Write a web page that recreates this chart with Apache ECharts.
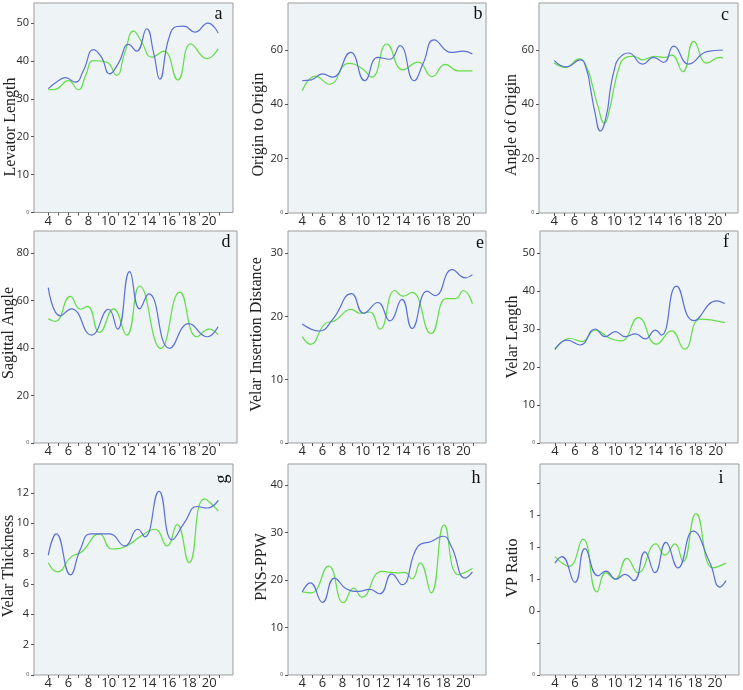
<!DOCTYPE html>
<html><head><meta charset="utf-8">
<script src="https://cdn.jsdelivr.net/npm/echarts@6/dist/echarts.min.js"></script>
<style>html,body{margin:0;padding:0;background:#fff}#c{width:743px;height:690px}</style>
</head><body><div id="c"></div>
<script>
// ---- data (x = age, y = value) ----
const levatorBlue = [[4,32.7],[5,34.8],[5.7,35.6],[6.7,34.4],[7.5,37.5],[8.5,43],[9.3,41],[10.1,36.6],[11,39.5],[12,44.4],[12.8,42.6],[13.8,48.5],[14.5,42],[15.1,35.2],[16,46],[16.8,49.1],[17.5,49.2],[18.6,47.6],[19.9,50],[20.9,47.4]];
const levatorGreen = [[4,32.4],[4.7,32.5],[6,34.8],[7,32.4],[7.7,36],[8.5,40.1],[9.8,39.7],[10.8,36.2],[11.6,42],[12.5,47.9],[13.3,45],[14.3,41],[15.5,42.6],[16.9,35],[18.2,44.5],[19.8,40.6],[20.9,43.2]];

const originBlue = [[4,48.7],[4.9,49],[6,51.2],[7,50],[8.8,59.1],[10.2,48.7],[11.5,57.3],[12.7,56.6],[13.7,61.6],[15.1,48.7],[16,55],[17.1,63.7],[18.8,59.1],[20,59.6],[20.9,58.5]];
const originGreen = [[4,45],[5.3,50.4],[6.7,47.4],[8.6,55.1],[9.9,53.3],[10.9,50],[12.4,62.2],[14,52.7],[15.5,55.5],[16.9,50.2],[18.2,54.7],[19.5,52.3],[20.9,52.3]];

const angleBlue = [[4,56.1],[5.2,53.8],[6.6,56.4],[7.2,53],[7.6,46],[8,38],[8.6,30.2],[9.2,36],[9.6,46],[10,53],[10.4,56.7],[11.4,58.9],[12.8,54.8],[13.9,57.3],[14.9,55.4],[15.9,61.4],[17.4,54.8],[19.2,59.4],[20.8,60]];
const angleGreen = [[4,55.2],[5.1,53.6],[6.5,56.7],[7.3,53],[7.8,47],[8.3,40],[9,33],[9.5,38],[10,47],[10.5,54],[10.9,56.7],[11.9,57.7],[12.8,56.4],[14,57.7],[15,57.3],[15.7,58.1],[16.8,52],[17.9,63.2],[19.2,55.2],[20.5,57.3],[20.8,57]];

const sagittalBlue = [[4,65.5],[5.2,53.6],[6.3,56.6],[8.3,45.5],[10,56.4],[10.9,48],[12.1,72.3],[13.1,56.6],[14,62.9],[16.1,39.9],[18,50.3],[19.8,44.8],[20.9,49]];
const sagittalGreen = [[4,52.4],[4.7,51.3],[6.2,61.8],[7.2,56.4],[7.9,57.6],[9.1,46.6],[10.5,56.6],[11.8,45.5],[13.1,66.2],[15.2,39.9],[17.1,63.6],[18.8,44.8],[20,48],[20.9,45.7]];

const insertionBlue = [[4,18.8],[5.7,17.7],[7,19.5],[8.9,23.6],[10.1,20.5],[11.5,22.2],[12.7,19.3],[13.9,22.7],[14.9,18.1],[16.4,24],[17.2,23.3],[18.9,27.4],[20.2,26.1],[20.9,26.6]];
const insertionGreen = [[4,16.8],[4.8,15.6],[6.3,18.9],[7.2,19.3],[8.9,21.1],[9.7,20.5],[10.7,20.7],[11.7,18],[13.2,24.1],[14,23.2],[14.9,23.8],[16.8,17.3],[18.3,22.8],[19.2,22.8],[20,24.1],[20.9,22]];

const velarLengthBlue = [[4,24.7],[5.2,27.1],[6.5,25.8],[8,30],[9,28],[10,29.3],[11,28],[12,28.7],[13,27.4],[14,29.7],[14.6,28.4],[16.1,41.3],[17.8,32.2],[20.1,37.4],[20.9,36.7]];
const velarLengthGreen = [[4,24.5],[5.5,27.5],[6.7,26.7],[8,29.7],[9.5,27.5],[10.6,26.9],[12.3,33],[14.1,26],[15.6,29.5],[16.9,24.7],[18.5,32.6],[20.9,31.7]];

const thicknessBlue = [[4,7.9],[4.8,9.3],[6.2,6.6],[7.2,8.3],[8.2,9.3],[10.1,9.3],[11.6,8.5],[12.9,9.6],[13.6,9.1],[15,12.1],[16.3,8.9],[17.5,10],[18.8,11.1],[19.8,11],[20.9,11.5]];
const thicknessGreen = [[4,7.4],[4.9,6.8],[6.3,7.8],[7.3,8.1],[9.1,9.3],[10.3,8.3],[11.8,8.5],[13.1,9.1],[14.6,9.6],[15.8,8.5],[16.8,9.9],[18,7.4],[19.5,11.6],[20.9,10.8]];

const pnsBlue = [[4,17.5],[4.8,19.4],[6,15.3],[7.2,20.4],[8.4,18.1],[9.6,17.6],[10.7,18],[11.7,17.1],[12.9,21.3],[13.9,19],[15.5,27.1],[16.8,28.1],[18,29.2],[18.8,27.1],[20.2,20.4],[20.9,21.7]];
const pnsGreen = [[4,17.5],[4.9,17.3],[6.6,22.9],[8.1,15.2],[9.1,18.3],[9.9,16.4],[11.9,21.8],[13.5,21.5],[14.2,21.6],[14.9,20.2],[15.7,23.6],[16.8,17.3],[18.1,31.6],[19.5,21.1],[20.9,22.4]];

const vpBlue = [[4,1.10],[4.7,1.14],[6,0.98],[7,1.19],[8.3,1.02],[9.1,1.05],[10.1,1.00],[11,1.03],[11.9,0.99],[13,1.17],[14,1.04],[15.1,1.23],[16.3,1.07],[17.8,1.30],[19.5,1.10],[20.5,0.95],[21.1,0.99]];
const vpGreen = [[4,1.14],[5.4,1.08],[6.8,1.25],[8.2,0.92],[9.1,1.04],[10,1.00],[11.2,1.13],[12.3,1.04],[14.1,1.22],[15,1.15],[16,1.22],[16.8,1.11],[18.1,1.41],[19.8,1.07],[21.1,1.10]];

const titles = ['Levator Length','Origin to Origin','Angle of Origin','Sagittal Angle','Velar Insertion Distance','Velar Length','Velar Thickness','PNS-PPW','VP Ratio'];
const letters = ['a','b','c','d','e','f','g','h','i'];
const blues = [levatorBlue, originBlue, angleBlue, sagittalBlue, insertionBlue, velarLengthBlue, thicknessBlue, pnsBlue, vpBlue];
const greens = [levatorGreen, originGreen, angleGreen, sagittalGreen, insertionGreen, velarLengthGreen, thicknessGreen, pnsGreen, vpGreen];

const xTickValues = [4,5,6,7,8,9,10,11,12,13,14,15,16,17,18,19,20,21];
const xLabelValues = [4,6,8,10,12,14,16,18,20];

const yTicks = [
  [0,10,20,30,40,50],
  [0,20,40,60],
  [0,20,40,60],
  [0,20,40,60,80],
  [0,10,20,30],
  [0,10,20,30,40,50],
  [0,2,4,6,8,10,12],
  [0,10,20,30,40],
  [0.4,0.6,0.8,1.0,1.2,1.4,1.6]
];
const yLabels = [
  ['0','10','20','30','40','50'],
  ['0','20','40','60'],
  ['0','20','40','60'],
  ['0','20','40','60','80'],
  ['0','10','20','30'],
  ['0','10','20','30','40','50'],
  ['0','2','4','6','8','10','12'],
  ['0','10','20','30','40'],
  ['0','','0','1','1','1','']
];

// ---- layout ----
const gridBoxes = [
  [34,3,199,209.5],[288,3,198,210],[539,3,199,210],
  [34,231,203,212],[288,231,198,212],[540,231,198,212],
  [34,464,199,212],[288,464,198,212],[540,464,199,212]
];
const xRanges = [[2.58,22.39],[2.58,22.25],[2.48,22.3],[2.58,22.79],[2.58,22.25],[2.51,22.22],[2.58,22.36],[2.58,22.25],[2.51,22.4]];
const yRanges = [[0,55.3],[0,77.3],[0,77.3],[0,89.4],[0,33.5],[0,55.8],[0,13.9],[0,44.4],[0.4,1.72]];
const titlePos = [[10.5,127],[259,124.5],[512,125],[8.5,333],[256.5,334.5],[513,337],[9,566],[262,567],[513,568]];
const letterPos = [[218.5,14],[478,14],[725,15],[226,242],[480,243],[726,242],[222,479],[476,478],[721,478]];

const grid = [], xAxis = [], yAxis = [], series = [], graphic = [];
for (let i = 0; i < 9; i++) {
  const g = gridBoxes[i];
  grid.push({left:g[0], top:g[1], width:g[2], height:g[3], show:true,
    backgroundColor:'#eef3f5', borderColor:'#9c9c9c', borderWidth:1, containLabel:false});
  xAxis.push({type:'value', gridIndex:i, min:xRanges[i][0], max:xRanges[i][1],
    axisLine:{show:false}, splitLine:{show:false},
    axisTick:{show:true, customValues:xTickValues, length:3, lineStyle:{color:'#555', width:1}},
    axisLabel:{customValues:xLabelValues, color:'#2a2a2a', fontSize:13, fontFamily:'Open Sans', margin:2}});
  const tv = yTicks[i], tl = yLabels[i];
  yAxis.push({type:'value', gridIndex:i, min:yRanges[i][0], max:yRanges[i][1],
    axisLine:{show:false}, splitLine:{show:false},
    axisTick:{show:true, customValues:tv, length:3, lineStyle:{color:'#555', width:1}},
    axisLabel:{customValues:tv, color:'#2a2a2a', fontSize:11, fontFamily:'Open Sans', margin:5,
      formatter:function(v){
        let k = -1;
        for (let j = 0; j < tv.length; j++) if (Math.abs(tv[j]-v) < 1e-6) k = j;
        if (k < 0) return '';
        if (k === 0) return '{s|' + tl[0] + '}';
        return tl[k];
      },
      rich:{s:{fontSize:5, color:'#333', fontFamily:'Open Sans'}}}});
  series.push({type:'line', name:'green'+i, xAxisIndex:i, yAxisIndex:i, data:greens[i], smooth:0.5,
    showSymbol:false, lineStyle:{color:'#62dd48', width:1.2}, z:2});
  series.push({type:'line', name:'blue'+i, xAxisIndex:i, yAxisIndex:i, data:blues[i], smooth:0.5,
    showSymbol:false, lineStyle:{color:'#5b6fd6', width:1.2}, z:3});
  graphic.push({type:'text', x:titlePos[i][0], y:titlePos[i][1], rotation:Math.PI/2,
    style:{text:titles[i], font:'16px "Liberation Serif"', fill:'#222', textAlign:'center', textVerticalAlign:'middle'}});
  graphic.push({type:'text', x:letterPos[i][0], y:letterPos[i][1], rotation: i === 6 ? Math.PI/2 : 0,
    style:{text:letters[i], font:'18px "Liberation Serif"', fill:'#111', textAlign:'center', textVerticalAlign:'middle'}});
}

const chart = echarts.init(document.getElementById('c'), null, {renderer:'canvas'});
chart.setOption({animation:false, backgroundColor:'#ffffff', grid, xAxis, yAxis, series, graphic});
</script>
</body></html>
